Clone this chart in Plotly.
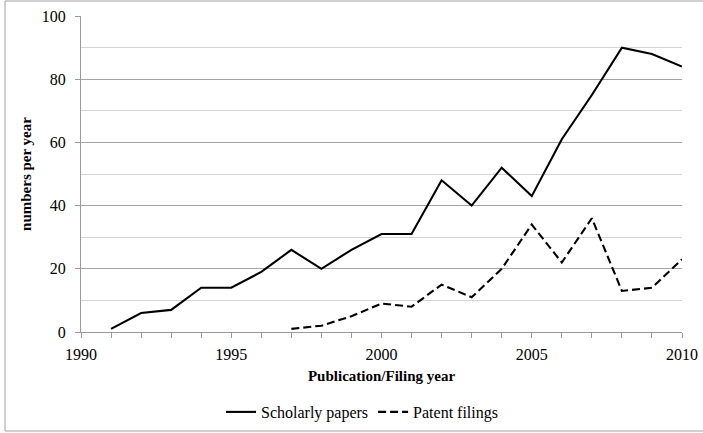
import plotly.graph_objects as go

years_papers = list(range(1991, 2011))
papers = [1, 6, 7, 14, 14, 19, 26, 20, 26, 31, 31, 48, 40, 52, 43, 61, 75, 90, 88, 84]
years_patents = list(range(1997, 2011))
patents = [1, 2, 5, 9, 8, 15, 11, 20, 34, 22, 36, 13, 14, 23]

W, H = 703, 433
L, R, T, B = 81, 21, 16, 101
pw, ph = W - L - R, H - T - B

font = "Liberation Serif, Times New Roman, serif"

fig = go.Figure()
fig.add_trace(go.Scatter(x=years_papers, y=papers, mode="lines", name="Scholarly papers",
                         line=dict(color="black", width=2.1)))
fig.add_trace(go.Scatter(x=years_patents, y=patents, mode="lines", name="Patent filings",
                         line=dict(color="black", width=2.1, dash="8px,4px")))

fig.update_layout(
    width=W, height=H,
    margin=dict(l=L, r=R, t=T, b=B, autoexpand=False),
    paper_bgcolor="white", plot_bgcolor="white",
    font=dict(family=font, size=16, color="black"),
    showlegend=True,
    legend=dict(orientation="h", x=(362 - L) / pw, xanchor="center", y=-(412 - T - ph) / ph,
                yanchor="middle", font=dict(family=font, size=16), itemwidth=30,
                bgcolor="rgba(0,0,0,0)"),
    xaxis=dict(range=[1990, 2010], tick0=1990, dtick=5, showgrid=False, showline=True,
               linecolor="#9a9a9a", linewidth=1, ticks="outside", ticklen=5, tickcolor="#9a9a9a",
               minor=dict(dtick=1, ticks="outside", ticklen=5, tickcolor="#9a9a9a", showgrid=False),
               tickfont=dict(family=font, size=16), zeroline=False, ticklabelstandoff=3,
               automargin=False,
               title=dict(text="<b>Publication/Filing year</b>", font=dict(family=font, size=15),
                          standoff=8)),
    yaxis=dict(range=[0, 100], dtick=20, showgrid=True, gridcolor="#a6a6a6", gridwidth=1,
               showline=True, linecolor="#9a9a9a", linewidth=1, ticks="outside", ticklen=5,
               tickcolor="#9a9a9a", zeroline=False, ticklabelstandoff=6, automargin=False,
               minor=dict(dtick=10, showgrid=True, gridcolor="#d4d4d4", gridwidth=1),
               tickfont=dict(family=font, size=16),
               title=dict(text="<b>numbers per year</b>", font=dict(family=font, size=15),
                          standoff=6)),
    shapes=[dict(type="rect", xref="paper", yref="paper",
                 x0=(5 - L) / pw, x1=(706 - L) / pw,
                 y0=-(431 - T - ph) / ph, y1=(ph + T - 1) / ph,
                 line=dict(color="#a0a0a0", width=1), layer="below")],
)

fig.write_html("out.html", config={"displayModeBar": False},
               post_script="document.body.style.margin='0';")
